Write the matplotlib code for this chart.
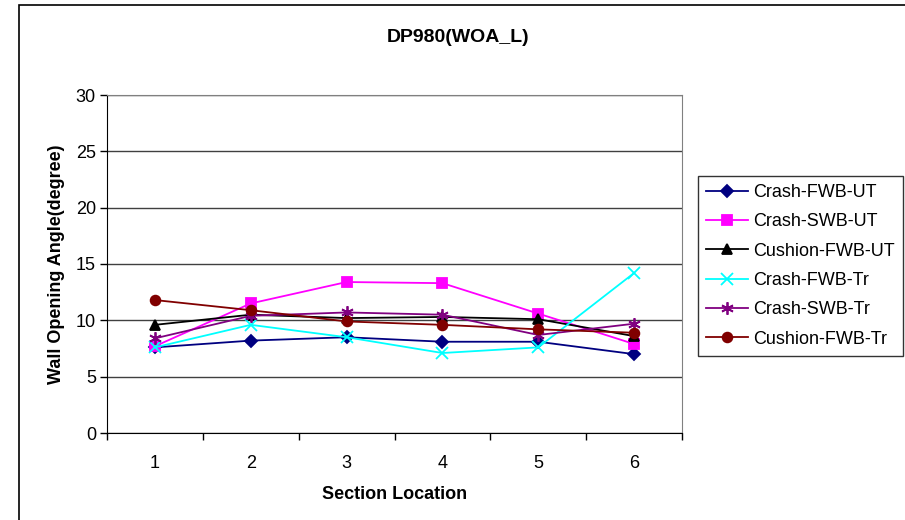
import matplotlib
matplotlib.use('Agg')
import matplotlib.pyplot as plt
from matplotlib.patches import Rectangle

plt.rcParams['font.family'] = ['Liberation Sans', 'DejaVu Sans']

sections = [1, 2, 3, 4, 5, 6]
crash_fwb_ut = [7.6, 8.2, 8.5, 8.1, 8.1, 7.0]
crash_swb_ut = [7.7, 11.5, 13.4, 13.3, 10.6, 7.9]
cushion_fwb_ut = [9.6, 10.5, 10.2, 10.3, 10.1, 8.6]
crash_fwb_tr = [7.6, 9.6, 8.5, 7.1, 7.6, 14.2]
crash_swb_tr = [8.4, 10.4, 10.7, 10.5, 8.7, 9.7]
cushion_fwb_tr = [11.8, 10.9, 9.9, 9.6, 9.2, 8.9]

series = [
    ('Crash-FWB-UT', crash_fwb_ut, '#000080', 'D', 6),
    ('Crash-SWB-UT', crash_swb_ut, '#FF00FF', 's', 7),
    ('Cushion-FWB-UT', cushion_fwb_ut, '#000000', '^', 7),
    ('Crash-FWB-Tr', crash_fwb_tr, '#00FFFF', 'x', 8),
    ('Crash-SWB-Tr', crash_swb_tr, '#800080', (6, 2, 0), 9),
    ('Cushion-FWB-Tr', cushion_fwb_tr, '#800000', 'o', 7),
]

W, H = 905, 520
fig = plt.figure(figsize=(W / 100, H / 100), dpi=100)
fig.patches.append(Rectangle((19 / W, -0.01), 1.0, 1 - 5 / H + 0.01, transform=fig.transFigure,
                             fill=False, edgecolor='black', linewidth=1.2))

ax = fig.add_axes([107 / W, 1 - 433 / H, (682 - 107) / W, (433 - 95) / H])

for label, vals, color, marker, ms in series:
    ax.plot(sections, vals, color=color, marker=marker, markersize=ms, linewidth=1.3,
            markeredgecolor=color, markeredgewidth=1.3, label=label, zorder=3)

ax.set_xlim(0.5, 6.5)
ax.set_ylim(0, 30)
ax.set_yticks(range(0, 31, 5))
ax.set_xticks(sections)
ax.set_xticks([0.5 + i for i in range(7)], minor=True)
ax.tick_params(axis='x', which='major', length=0, labelsize=13, pad=16)
ax.tick_params(axis='x', which='minor', length=5, direction='out', width=1)
ax.tick_params(axis='y', length=5, direction='out', labelsize=13, width=1, pad=3)
ax.yaxis.grid(True, color='#404040', linewidth=1)
ax.set_axisbelow(True)
for s in ['top', 'right']:
    ax.spines[s].set_color('#808080')
for s in ['left', 'bottom']:
    ax.spines[s].set_color('black')

ax.set_xlabel('Section Location', fontsize=13, fontweight='bold', labelpad=10)
ax.set_ylabel('Wall Opening Angle(degree)', fontsize=13, fontweight='bold', labelpad=8)
fig.text(458 / W, 1 - 37 / H, 'DP980(WOA_L)', ha='center', va='center',
         fontsize=14, fontweight='bold')

leg = ax.legend(loc='upper left', bbox_to_anchor=(698 / W, 1 - 176 / H),
                bbox_transform=fig.transFigure, fontsize=13, frameon=True,
                fancybox=False, edgecolor='black', borderpad=0.45,
                handlelength=2.3, labelspacing=0.68, handletextpad=0.3, borderaxespad=0)
leg.get_frame().set_linewidth(1)

fig.savefig('out.png', dpi=100, facecolor='white')
